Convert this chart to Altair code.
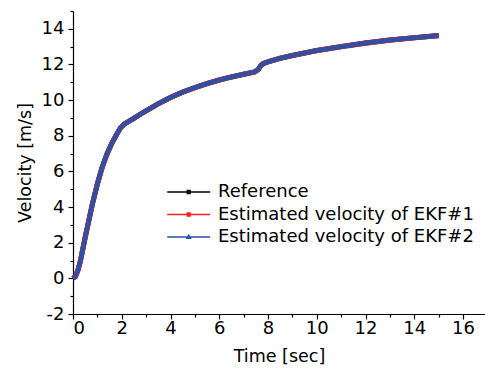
import altair as alt
import pandas as pd

# ---- data ----
time_s = [0.0, 0.1, 0.2, 0.3, 0.5, 0.8, 1.0, 1.2, 1.4, 1.6, 1.8, 1.95, 2.1, 2.3,
          2.5, 2.75, 3.0, 3.5, 4.0, 4.5, 5.0, 5.5, 6.0, 6.5, 7.0, 7.45, 7.6,
          7.7, 7.8, 8.0, 8.5, 9.0, 10.0, 11.0, 12.0, 13.0, 14.0, 15.0]
velocity_ref = [0.0, 0.1, 0.45, 0.95, 2.3, 4.2, 5.3, 6.25, 7.0, 7.6, 8.1, 8.45, 8.65, 8.82,
                8.98, 9.2, 9.4, 9.8, 10.15, 10.45, 10.7, 10.93, 11.13, 11.3, 11.45, 11.58, 11.72,
                11.93, 12.05, 12.15, 12.35, 12.5, 12.78, 13.0, 13.2, 13.37, 13.5, 13.62]
velocity_ekf1 = [0.0, 0.1, 0.45, 0.95, 2.3, 4.2, 5.3, 6.25, 7.0, 7.6, 8.1, 8.45, 8.65, 8.82,
                 8.98, 9.2, 9.4, 9.8, 10.15, 10.45, 10.7, 10.93, 11.13, 11.3, 11.45, 11.58, 11.72,
                 11.93, 12.05, 12.15, 12.35, 12.5, 12.78, 13.0, 13.2, 13.37, 13.5, 13.62]
velocity_ekf2 = [0.0, 0.1, 0.45, 0.95, 2.3, 4.2, 5.3, 6.25, 7.0, 7.6, 8.1, 8.45, 8.65, 8.82,
                 8.98, 9.2, 9.4, 9.8, 10.15, 10.45, 10.7, 10.93, 11.13, 11.3, 11.45, 11.58, 11.72,
                 11.93, 12.05, 12.15, 12.35, 12.5, 12.78, 13.0, 13.2, 13.37, 13.5, 13.62]

series_names = ["Reference", "Estimated velocity of EKF#1", "Estimated velocity of EKF#2"]
series_colors = ["#000000", "#ff2020", "#2f4fa3"]

x_major = [0, 2, 4, 6, 8, 10, 12, 14, 16]
x_minor = [1, 3, 5, 7, 9, 11, 13, 15]
y_major = [-2, 0, 2, 4, 6, 8, 10, 12, 14]
y_minor = [-1, 1, 3, 5, 7, 9, 11, 13, 15]

frames = []
for name, vals in zip(series_names, [velocity_ref, velocity_ekf1, velocity_ekf2]):
    frames.append(pd.DataFrame({"t": time_s, "v": vals, "series": name}))
df = pd.concat(frames, ignore_index=True)

FONT = "DejaVu Sans"

shape_sq = "M-4.3,0L4.3,0M-0.3,-0.3L0.3,-0.3L0.3,0.3L-0.3,0.3Z"
shape_tri = "M-4.3,0L4.3,0M0,-0.4L0.38,0.28L-0.38,0.28Z"

legend = alt.Legend(
    title=None, orient="none", legendX=106.7, legendY=172, padding=0,
    symbolType={"expr": f"datum.value === '{series_names[2]}' ? '{shape_tri}' : '{shape_sq}'"},
    symbolFillColor={"expr": "scale('color', datum.value)"},
    symbolSize=100, symbolStrokeWidth=1.3,
    labelFont=FONT, labelFontSize=18, labelColor="black", labelOffset=20.3,
    labelLimit=0, rowPadding=4.5,
)
color = alt.Color("series:N", scale=alt.Scale(domain=series_names, range=series_colors), legend=legend)

xscale = alt.Scale(domain=[0, 16.9], nice=False, zero=False)
yscale = alt.Scale(domain=[-2, 15], nice=False, zero=False)

common = dict(domainColor="black", tickColor="black", labelColor="black", grid=False,
              labelFont=FONT, titleFont=FONT, labelFontSize=18, titleFontSize=17.5,
              titleFontWeight="normal", titleColor="black", domainWidth=1.2, tickWidth=1.2,
              labelExpr="'' + datum.value")

major_x = alt.Axis(values=x_major, title="Time [sec]", tickSize=5, labelPadding=0,
                   titlePadding=10, orient="bottom", **common)
major_y = alt.Axis(values=y_major, title="Velocity [m/s]", tickSize=5, labelPadding=4,
                   titlePadding=7, orient="left", **common)
minor_x = alt.Axis(values=x_minor, title=None, labels=False, domain=False, tickSize=3,
                   orient="bottom", grid=False, tickColor="black", tickWidth=1.2)
minor_y = alt.Axis(values=y_minor, title=None, labels=False, domain=False, tickSize=3,
                   orient="left", grid=False, tickColor="black", tickWidth=1.2)

base = alt.Chart(df)

black = base.transform_filter(alt.datum.series == series_names[0]).mark_line(strokeWidth=5).encode(
    x=alt.X("t:Q", scale=xscale, axis=major_x),
    y=alt.Y("v:Q", scale=yscale, axis=major_y),
    color=color,
)
red = base.transform_filter(alt.datum.series == series_names[1]).mark_line(strokeWidth=5.2).encode(
    x=alt.X("t:Q", scale=xscale, axis=minor_x),
    y=alt.Y("v:Q", scale=yscale, axis=minor_y),
    color=color,
)
blue = base.transform_filter(alt.datum.series == series_names[2]).mark_line(strokeWidth=4.6).encode(
    x=alt.X("t:Q", scale=xscale, axis=None),
    y=alt.Y("v:Q", scale=yscale, axis=None),
    color=color,
)

chart = alt.layer(black, red, blue).resolve_axis(x="independent", y="independent").properties(
    width=412, height=303,
    autosize=alt.AutoSizeParams(type="none"),
    padding={"left": 73, "top": 11, "right": 0, "bottom": 59},
    background="white",
).configure_view(stroke=None)

chart.save("out.html", embed_options={"renderer": "svg", "actions": False})
